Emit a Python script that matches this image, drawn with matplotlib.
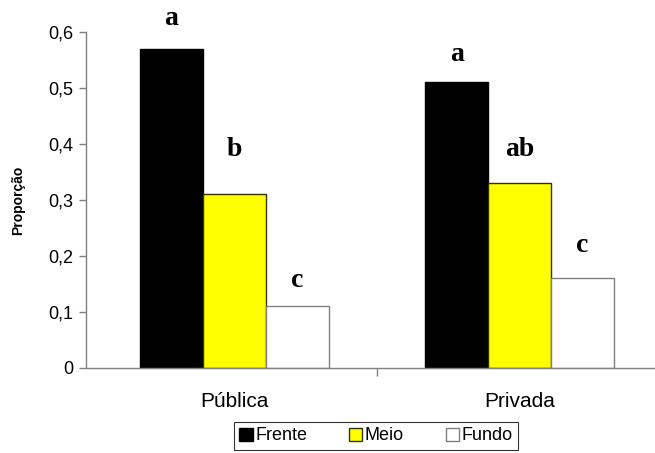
import matplotlib
matplotlib.use("Agg")
import matplotlib.pyplot as plt
import numpy as np
from matplotlib.ticker import FixedLocator, NullFormatter

categories = ["Pública", "Privada"]
series_names = ["Frente", "Meio", "Fundo"]
frente = [0.57, 0.51]
meio = [0.31, 0.33]
fundo = [0.11, 0.16]
letters_frente = ["a", "a"]
letters_meio = ["b", "ab"]
letters_fundo = ["c", "c"]
yticks = [0, 0.1, 0.2, 0.3, 0.4, 0.5, 0.6]
ytick_labels = ["0", "0,1", "0,2", "0,3", "0,4", "0,5", "0,6"]

plt.rcParams['font.family'] = ['Liberation Sans', 'DejaVu Sans']

fig = plt.figure(figsize=(6.55, 4.53), dpi=100)
ax = fig.add_axes([86/655, 85/453, 569/655, 336/453])

colors = ["#000000", "#FFFF00", "#FFFFFF"]
edges = ["#000000", "#333300", "#808080"]
series = [frente, meio, fundo]
letters = [letters_frente, letters_meio, letters_fundo]
# baseline offsets above bar tops for the significance letters
label_offsets = [[0.043, 0.038], [0.069, 0.049], [0.035, 0.047]]

x = np.arange(len(categories))
w = 0.221
handles = []
for i, (vals, c, e) in enumerate(zip(series, colors, edges)):
    pos = x + (i - 1) * w
    b = ax.bar(pos, vals, width=w, color=c, edgecolor=e, linewidth=1.0,
               label=series_names[i], zorder=2)
    handles.append(b)
    for j, v in enumerate(vals):
        ax.text(pos[j], v + label_offsets[i][j], letters[i][j],
                ha='center', va='baseline', fontsize=20, fontweight='bold',
                family=['Liberation Serif', 'DejaVu Serif'])

ax.set_xlim(-0.521, 1.475)
ax.set_ylim(0, 0.6)
ax.set_yticks(yticks)
ax.set_yticklabels(ytick_labels, fontsize=13)
ax.set_xticks(x)
ax.set_xticklabels(categories, fontsize=15)
ax.xaxis.set_minor_locator(FixedLocator([0.5]))
ax.xaxis.set_minor_formatter(NullFormatter())
ax.tick_params(axis='x', which='major', length=0, pad=17)
ax.tick_params(axis='x', which='minor', length=6, color='#808080', width=1)
ax.tick_params(axis='y', length=5, color='#808080', width=1, pad=4)

for s in ['top', 'right']:
    ax.spines[s].set_visible(False)
for s in ['left', 'bottom']:
    ax.spines[s].set_color('#808080')
    ax.spines[s].set_linewidth(1)

ax.set_ylabel("Proporção", fontsize=10, fontweight='bold', labelpad=17)

leg = fig.legend(handles=handles, labels=series_names, loc='center',
                 bbox_to_anchor=(376/655, 1 - 436/453), ncol=3, fontsize=13,
                 frameon=True, fancybox=False, edgecolor='#000000',
                 handlelength=0.75, handleheight=0.75, handletextpad=0.15,
                 columnspacing=2.3, borderpad=0.3, borderaxespad=0)
leg.get_frame().set_linewidth(0.8)

fig.savefig("out.png", dpi=100)
